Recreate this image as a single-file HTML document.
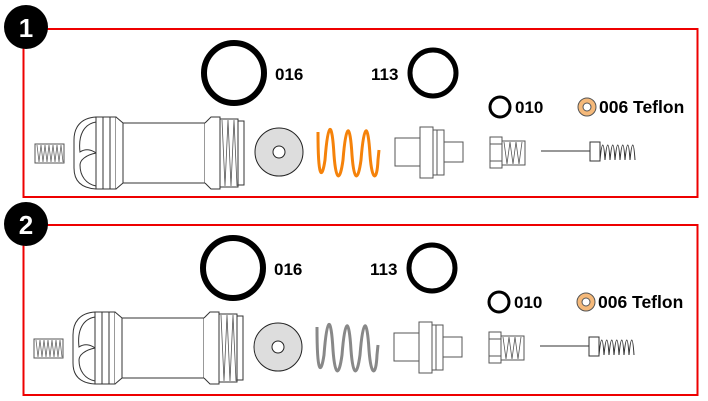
<!DOCTYPE html>
<html><head><meta charset="utf-8"><style>html,body{margin:0;padding:0;background:#fff}svg{display:block}</style></head>
<body>
<svg width="708" height="401" viewBox="0 0 708 401" xmlns="http://www.w3.org/2000/svg" font-family="Liberation Sans, sans-serif">
<defs>
<g id="parts">
  <rect x="35" y="144" width="29" height="19" fill="#fff" stroke="#555" stroke-width="1"/>
  <path d="M37 145 l2 17 l2 -17 l2 17 l2 -17 l2 17 l2 -17 l2 17 l2 -17 l2 17 l2 -17 l2 17 l2 -17 l2 17" fill="none" stroke="#666" stroke-width="0.8"/>
  <path d="M96 117 C80 118 74 128 74 140 L74 168 C74 180 80 188 96 189 Z" fill="#fff" stroke="#333" stroke-width="1"/>
  <path d="M96 122 C84 124 78 135 80 152 C86 148 92 150 96 153 M96 153 C86 155 80 160 80 165 C80 176 86 184 96 186" fill="none" stroke="#333" stroke-width="1"/>
  <rect x="96" y="117" width="20" height="72" fill="#fff" stroke="#333" stroke-width="1"/>
  <line x1="103" y1="117" x2="103" y2="189" stroke="#333"/>
  <line x1="110" y1="117" x2="110" y2="189" stroke="#333"/>
  <path d="M116 117 L123 123 L123 183 L116 189" fill="#fff" stroke="#333"/>
  <rect x="123" y="123" width="82" height="60" fill="#fff" stroke="#333"/>
  <path d="M205 123 L211 117 L220 117 L220 189 L211 189 L205 183" fill="#fff" stroke="#333"/>
  <rect x="220" y="119" width="18" height="68" fill="#fff" stroke="#333"/>
  <path d="M222 120 l3 66 l3 -66 l3 66 l3 -66 l3 66" fill="none" stroke="#555" stroke-width="0.8"/>
  <rect x="238" y="121" width="6" height="64" fill="#fff" stroke="#333"/>
  <circle cx="279" cy="152" r="24" fill="#ddd" stroke="#222" stroke-width="1"/>
  <circle cx="279" cy="152" r="6" fill="#fff" stroke="#222" stroke-width="1"/>
  <rect x="395" y="138" width="25" height="28" fill="#fff" stroke="#555"/>
  <rect x="420" y="127" width="13" height="51" fill="#fff" stroke="#555"/>
  <path d="M433 130 h11 v45 h-11 M437 130 v45" fill="none" stroke="#555"/>
  <rect x="444" y="142" width="19" height="20" fill="#fff" stroke="#555"/>
  <rect x="490" y="137" width="12" height="31" fill="#fff" stroke="#555"/>
  <line x1="490" y1="144" x2="502" y2="144" stroke="#555"/>
  <line x1="490" y1="161" x2="502" y2="161" stroke="#555"/>
  <rect x="502" y="141" width="23" height="24" fill="#fff" stroke="#555"/>
  <path d="M504 142 l3 22 l3 -22 l3 22 l3 -22 l3 22 l3 -22" fill="none" stroke="#555" stroke-width="0.8"/>
  <line x1="541" y1="151" x2="590" y2="151" stroke="#777" stroke-width="1.5"/>
  <rect x="590" y="142" width="10" height="19" fill="#fff" stroke="#333"/>
  <path d="M600 160 q3 -30 5 0 q3 -30 5 0 q3 -30 5 0 q3 -30 5 0 q3 -30 5 0 q3 -30 5 0 q3 -30 5 0" fill="none" stroke="#333" stroke-width="1"/>
  <circle cx="234" cy="73" r="30" fill="none" stroke="#000" stroke-width="6"/>
  <text x="275" y="80" font-size="17" font-weight="bold">016</text>
  <circle cx="433" cy="73" r="23" fill="none" stroke="#000" stroke-width="5"/>
  <text x="371" y="80" font-size="17" font-weight="bold">113</text>
  <circle cx="500" cy="107" r="10" fill="none" stroke="#000" stroke-width="3"/>
  <text x="515" y="113" font-size="17" font-weight="bold">010</text>
  <circle cx="587" cy="107" r="9" fill="#f5b97a" stroke="#555" stroke-width="1"/>
  <circle cx="587" cy="107" r="4" fill="#fff" stroke="#555" stroke-width="1"/>
  <text x="599" y="113" font-size="17.5" font-weight="bold">006 Teflon</text>
</g>
</defs>
<rect x="23.5" y="29" width="674" height="168" fill="none" stroke="#e00" stroke-width="2"/>
<use href="#parts"/>
<path d="M318 132 C318 180 322 180 325 160 C328 120 332 120 334 155 C336 182 340 182 343 160 C346 122 350 122 352 155 C354 182 358 182 361 160 C364 122 368 122 370 155 C372 182 377 182 378 160 L379 150" fill="none" stroke="#f5820a" stroke-width="3"/>
<circle cx="26" cy="27" r="22" fill="#000"/>
<text x="26" y="37" font-size="26" font-weight="bold" fill="#fff" text-anchor="middle">1</text>
<rect x="23.5" y="225" width="674" height="170" fill="none" stroke="#e00" stroke-width="2"/>
<g transform="translate(-1,195)">
<use href="#parts"/>
<path d="M318 132 C318 180 322 180 325 160 C328 120 332 120 334 155 C336 182 340 182 343 160 C346 122 350 122 352 155 C354 182 358 182 361 160 C364 122 368 122 370 155 C372 182 377 182 378 160 L379 150" fill="none" stroke="#888" stroke-width="3"/>
</g>
<circle cx="26" cy="224" r="22" fill="#000"/>
<text x="26" y="234" font-size="26" font-weight="bold" fill="#fff" text-anchor="middle">2</text>
</svg>
</body></html>
